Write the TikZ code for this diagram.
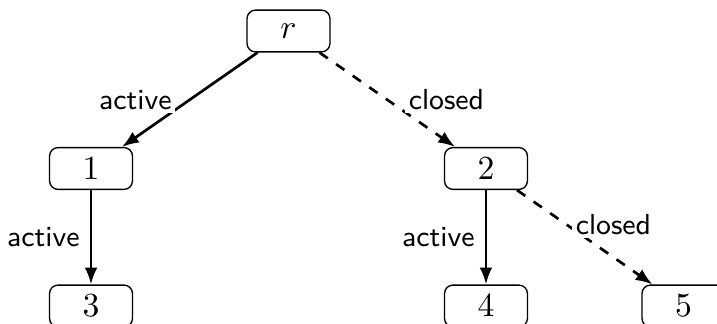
\documentclass[tikz,border=0pt]{standalone}
\usepackage{amssymb,amsmath}
\usepackage{tikz}
\usetikzlibrary{positioning, arrows.meta}

\begin{document}
\begin{tikzpicture}[->,>={Latex[length=5pt,width=3.8pt]},thick,
    state/.style={draw, thin, on grid, rounded corners=2.5pt,
      minimum width=24.6pt, minimum height=12.4pt, inner sep=0pt},
    lbl/.style={font=\fontsize{8.6pt}{10pt}\sffamily, fill=white, inner sep=1pt},
    node distance=40.8pt and 58.6pt]
  \useasboundingbox (0,0) rectangle (212.76pt,-95.85pt);

  \node[state] (r) at (85.61pt,-9.2pt) {$r$};
  \node[state, below left=of r] (n1) {$1$};
  \node[state, below right=of r] (n2) {$2$};
  \node[state, below=of n1] (n3) {$3$};
  \node[state, below=of n2] (n4) {$4$};
  \node[state, right=of n4] (n5) {$5$};

  \path (r) edge node[lbl, left=4pt] {active} (n1);
  \path[dashed] (r) edge node[lbl, right=5pt] {closed} (n2);
  \path (n1) edge node[lbl, left=2pt] {active} (n3);
  \path (n2) edge node[lbl, left=2pt] {active} (n4);
  \path[dashed] (n2) edge node[lbl, pos=0.362, right=1.5pt] {closed} (n5);
\end{tikzpicture}
\end{document}
